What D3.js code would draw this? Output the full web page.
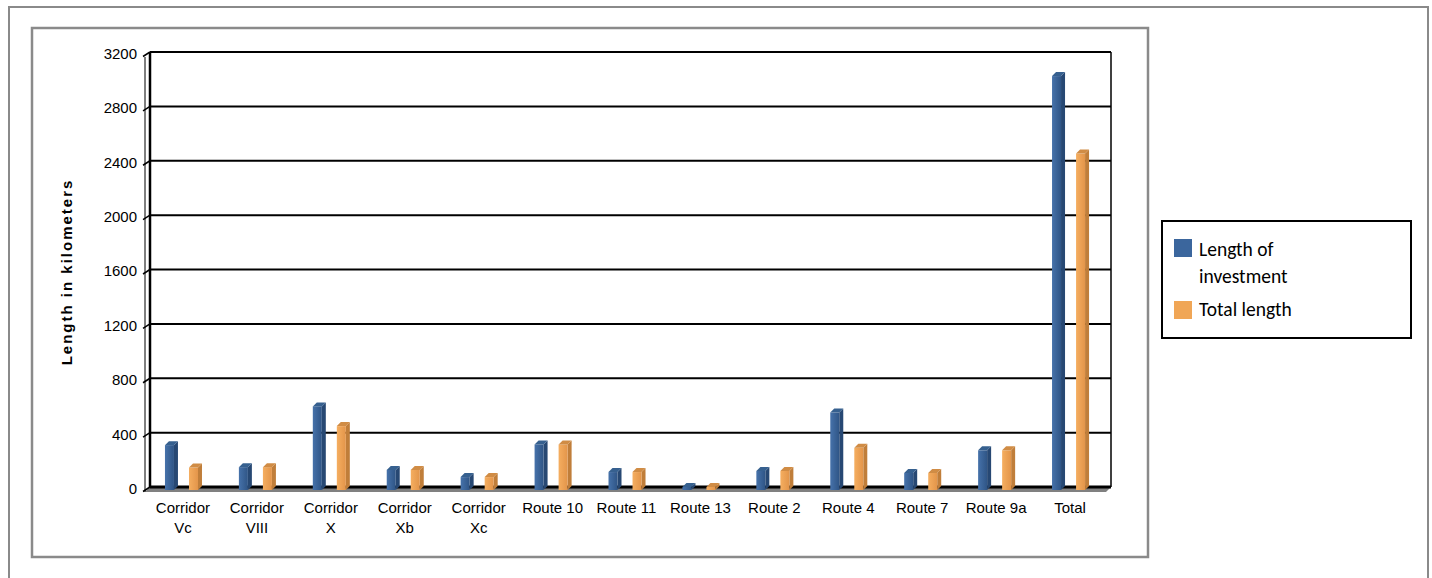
<!DOCTYPE html>
<html>
<head>
<meta charset="utf-8">
<script src="https://cdn.jsdelivr.net/npm/d3@7"></script>
<style>
  body { margin: 0; background: #fff; }
  svg { display: block; }
</style>
</head>
<body>
<svg id="chart" width="1432" height="578"></svg>
<script>
//-- DATA --\\
var categories = ["Corridor Vc", "Corridor VIII", "Corridor X", "Corridor Xb", "Corridor Xc",
                  "Route 10", "Route 11", "Route 13", "Route 2", "Route 4", "Route 7", "Route 9a", "Total"];
var catLines = [["Corridor", "Vc"], ["Corridor", "VIII"], ["Corridor", "X"], ["Corridor", "Xb"], ["Corridor", "Xc"],
                ["Route 10"], ["Route 11"], ["Route 13"], ["Route 2"], ["Route 4"], ["Route 7"], ["Route 9a"], ["Total"]];
var seriesNames = ["Length of investment", "Total length"];
var investment = [330, 168, 615, 148, 95, 335, 132, 22, 140, 570, 125, 292, 3045];
var totalLength = [165, 168, 470, 148, 95, 335, 132, 22, 140, 310, 125, 292, 2475];
var yTicks = [0, 400, 800, 1200, 1600, 2000, 2400, 2800, 3200];

//-- CONSTANTS --\\
var depth = 5;        // wall depth offset
var barDepth = 4;     // bar side/top depth
var faceW = 9;        // bar front width
var fontAxis = "Liberation Sans, Arial, sans-serif";

var svg = d3.select("#chart");
var defs = svg.append("defs");

function grad(id, c1, c2) {
    var g = defs.append("linearGradient").attr("id", id)
        .attr("x1", "0%").attr("x2", "100%").attr("y1", "0%").attr("y2", "0%");
    g.append("stop").attr("offset", "0%").attr("stop-color", c1);
    g.append("stop").attr("offset", "100%").attr("stop-color", c2);
}
grad("blueFront", "#4672aa", "#2f5586");
grad("orangeFront", "#f5ae60", "#e3954a");

var colors = {
    "Length of investment": { front: "url(#blueFront)", side: "#274873", top: "#36608f", swatch: "#3b669d" },
    "Total length": { front: "url(#orangeFront)", side: "#c07e3a", top: "#d08c45", swatch: "#f0a656" }
};

// frames
svg.append("rect").attr("x", 9).attr("y", 7).attr("width", 1419).attr("height", 580)
    .attr("fill", "none").attr("stroke", "#8a8a8a").attr("stroke-width", 2);
svg.append("rect").attr("x", 32).attr("y", 28).attr("width", 1116).attr("height", 529)
    .attr("fill", "none").attr("stroke", "#8a8a8a").attr("stroke-width", 2.5);

//-- scales --\\
var x = d3.scaleBand().domain(categories).range([150, 1111]);
var y = d3.scaleLinear().domain([0, 3200]).range([487, 52]);
var xSub = d3.scaleBand().domain(seriesNames).range([-17, 20]).paddingInner(0.46);

var g = svg.append("g");

// floor
var y0 = y(0);
g.append("path")
    .attr("d", "M150," + y0 + "L1111," + y0 + "L" + (1111 - depth) + "," + (y0 + depth) + "L" + (150 - depth) + "," + (y0 + depth) + "Z")
    .attr("fill", "#808080");

// left wall outline
g.append("line").attr("x1", 150 - depth).attr("x2", 150 - depth).attr("y1", y(3200) + depth).attr("y2", y0 + depth)
    .attr("stroke", "#000").attr("stroke-width", 1);

// gridlines
yTicks.forEach(function (t) {
    var yy = y(t);
    g.append("line").attr("x1", 150).attr("x2", 1111).attr("y1", yy).attr("y2", yy)
        .attr("stroke", "#000").attr("stroke-width", t === 0 ? 3 : 2);
    g.append("line").attr("x1", 143).attr("x2", 150).attr("y1", yy + depth - 0.5).attr("y2", yy)
        .attr("stroke", "#000").attr("stroke-width", 1.5);
    g.append("text").attr("x", 137).attr("y", yy + depth - 2)
        .attr("text-anchor", "end").attr("dominant-baseline", "middle")
        .attr("font-family", fontAxis).attr("font-size", 15).attr("fill", "#000")
        .text(t);
});

// walls
g.append("line").attr("x1", 150).attr("x2", 150).attr("y1", y(3200)).attr("y2", y0)
    .attr("stroke", "#000").attr("stroke-width", 2.5);
g.append("line").attr("x1", 1111).attr("x2", 1111).attr("y1", y(3200)).attr("y2", y0)
    .attr("stroke", "#000").attr("stroke-width", 1.5);

// bars
var barOffY = 3;
var rows = [];
categories.forEach(function (c, i) {
    rows.push({ cat: c, s: seriesNames[0], v: investment[i] });
    rows.push({ cat: c, s: seriesNames[1], v: totalLength[i] });
});

var bars = g.selectAll("g.bar").data(rows).enter().append("g").attr("class", "bar");
bars.each(function (d) {
    var sel = d3.select(this);
    var cx = x(d.cat) + x.bandwidth() / 2 - depth;
    var x0 = cx + xSub(d.s);
    var yb = y(0) + barOffY;
    var yt = y(d.v) + barOffY;
    var col = colors[d.s];
    // side
    sel.append("path")
        .attr("d", "M" + (x0 + faceW) + "," + yb + "L" + (x0 + faceW + barDepth) + "," + (yb - barDepth) +
            "L" + (x0 + faceW + barDepth) + "," + (yt - barDepth) + "L" + (x0 + faceW) + "," + yt + "Z")
        .attr("fill", col.side);
    // front
    sel.append("rect").attr("x", x0).attr("y", yt).attr("width", faceW).attr("height", yb - yt)
        .attr("fill", col.front);
    // top
    sel.append("path")
        .attr("d", "M" + x0 + "," + yt + "L" + (x0 + faceW) + "," + yt + "L" + (x0 + faceW + barDepth) + "," + (yt - barDepth) +
            "L" + (x0 + barDepth) + "," + (yt - barDepth) + "Z")
        .attr("fill", col.top);
});

// category labels
categories.forEach(function (c, i) {
    var cx = x(c) + x.bandwidth() / 2 - depth + 1;
    catLines[i].forEach(function (line, j) {
        g.append("text").attr("x", cx).attr("y", 513 + j * 20)
            .attr("text-anchor", "middle")
            .attr("font-family", fontAxis).attr("font-size", 15).attr("fill", "#000")
            .text(line);
    });
});

// y axis title
svg.append("text")
    .attr("transform", "translate(72,272) rotate(-90)")
    .attr("text-anchor", "middle")
    .attr("font-family", fontAxis).attr("font-size", 15).attr("font-weight", "bold")
    .attr("letter-spacing", 2)
    .text("Length in kilometers");

// legend
var lg = svg.append("g");
lg.append("rect").attr("x", 1162).attr("y", 221).attr("width", 249).attr("height", 117)
    .attr("fill", "#fff").attr("stroke", "#000").attr("stroke-width", 2);
var legendFont = "Carlito, 'Open Sans', 'Noto Sans', sans-serif";
var legendSize = 19.5;
lg.append("rect").attr("x", 1174).attr("y", 239).attr("width", 18).attr("height", 18)
    .attr("fill", colors[seriesNames[0]].swatch);
lg.append("rect").attr("x", 1174).attr("y", 301).attr("width", 18).attr("height", 18)
    .attr("fill", colors[seriesNames[1]].swatch);
[["Length of", 256], ["investment", 283]].forEach(function (t) {
    lg.append("text").attr("x", 1199).attr("y", t[1]).attr("font-family", legendFont)
        .attr("font-size", legendSize).text(t[0]);
});
lg.append("text").attr("x", 1199).attr("y", 316).attr("font-family", legendFont)
    .attr("font-size", legendSize).text(seriesNames[1]);
</script>
</body>
</html>
